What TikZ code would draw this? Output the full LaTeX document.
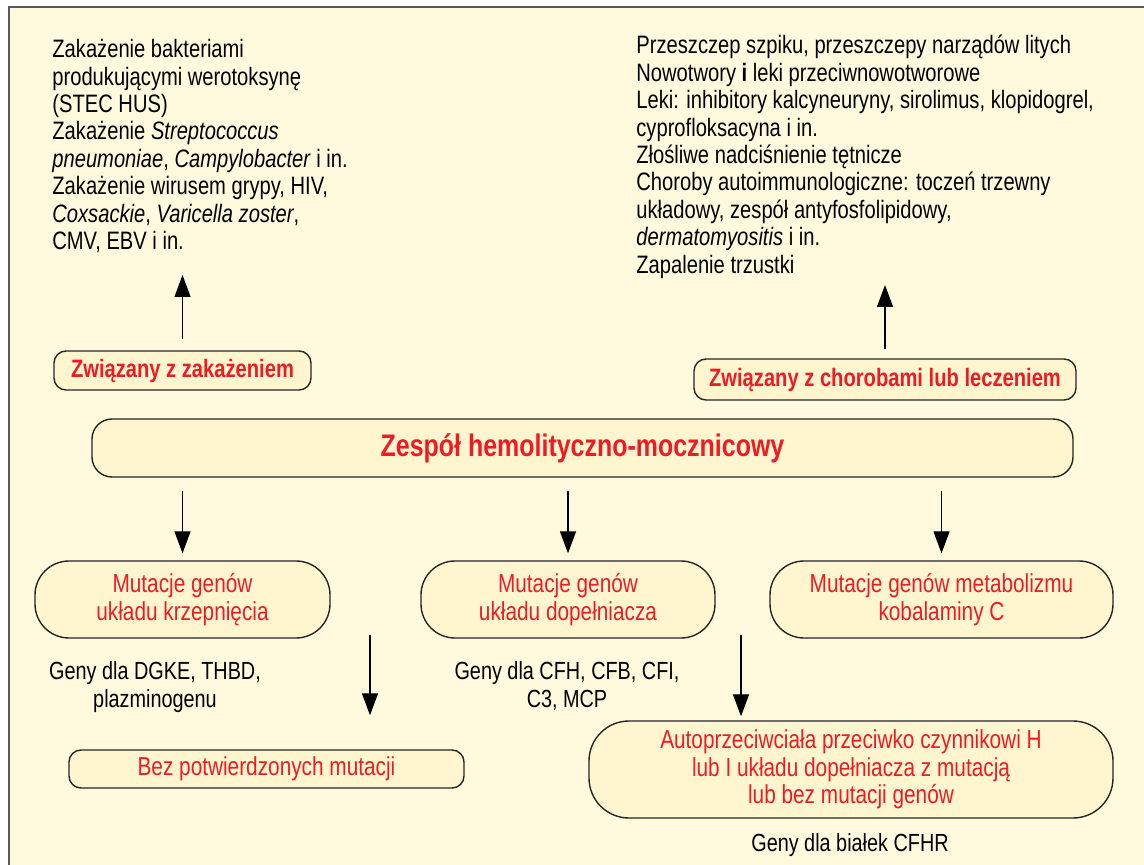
\documentclass[tikz,border=0pt]{standalone}
\usepackage{xcolor}
\usepackage{fontspec}
\setmainfont{Liberation Sans}[FakeStretch=0.80]
\usepackage{tikz}
\usetikzlibrary{arrows.meta}
\usetikzlibrary{positioning}
\definecolor{tlo}{RGB}{255,250,221}
\definecolor{wypelnienie}{RGB}{255,246,208}
\definecolor{czerwony}{RGB}{237,28,36}
\definecolor{obrys}{RGB}{90,90,90}
\tikzset{
    opis/.style = {inner sep=0pt, align=left, font=\fontsize{12.6}{13.7}\selectfont},
    geny/.style = {inner sep=0pt, align=center, font=\fontsize{12.4}{14}\selectfont},
    mybox/.style = {draw=black!85, fill=wypelnienie, line width=0.7pt, inner sep=0pt, text=czerwony, align=center, rounded corners=6pt},
    myboxb/.style = {mybox, font=\bfseries\fontsize{12.6}{14}\selectfont},
    myboxm/.style = {mybox, rounded corners=17pt, font=\fontsize{13}{14}\selectfont},
}

\begin{document}
\begin{tikzpicture}[
	x=0.5pt, y=-0.5pt,
	line cap=butt
]
\tikzset{
    strzal/.style = {-{Triangle[width=8pt,length=11pt]}, line width=0.65pt}
}
\useasboundingbox (0,0) rectangle (1144,865);
\fill[tlo] (9,7) rectangle (1144,865);
\draw[obrys, line width=1.3pt] (9,865) -- (9,7) -- (1144,7);
%
\node[opis, anchor=north west] at (52,39) (zakazenia) {Zakażenie bakteriami\\
produkującymi werotoksynę\\
(STEC HUS)\\
Zakażenie \textit{Streptococcus}\\
\textit{pneumoniae}, \textit{Campylobacter} i in.\\
Zakażenie wirusem grypy, HIV,\\
\textit{Coxsackie}, \textit{Varicella zoster},\\
CMV, EBV i in.};
\node[opis, anchor=north west] at (636,35) (choroby) {Przeszczep szpiku, przeszczepy narządów litych\\
Nowotwory \textbf{i} leki przeciwnowotworowe\\
Leki: inhibitory kalcyneuryny, sirolimus, klopidogrel,\\
cyprofloksacyna i in.\\
Złośliwe nadciśnienie tętnicze\\
Choroby autoimmunologiczne: toczeń trzewny\\
układowy, zespół antyfosfolipidowy,\\
\textit{dermatomyositis} i in.\\
Zapalenie trzustki};
%
\node[myboxb, minimum width=128.5pt, minimum height=19.5pt] at (182.5,370.5) (zak) {Związany z zakażeniem};
\node[myboxb, minimum width=191pt, minimum height=20.5pt] at (885,379.5) (lecz) {Związany z chorobami lub leczeniem};
\node[mybox, rounded corners=10pt, minimum width=490.5pt, minimum height=29pt, font=\bfseries\fontsize{15.6}{17}\selectfont] at (582.5,448) (hus) {Zespół hemolityczno-mocznicowy};
%
\node[myboxm, minimum width=147.5pt, minimum height=38.5pt] at (182.5,599.5) (mutk) {Mutacje genów\\układu krzepnięcia};
\node[myboxm, minimum width=147pt, minimum height=38.5pt] at (568,599.5) (mutd) {Mutacje genów\\układu dopełniacza};
\node[myboxm, minimum width=171.5pt, minimum height=38.5pt] at (941.5,599.5) (mutc) {Mutacje genów metabolizmu\\kobalaminy C};
%
\node[geny, anchor=north] at (155,661) (genyk) {Geny dla DGKE, THBD,\\plazminogenu};
\node[geny, anchor=north] at (567,661) (genyd) {Geny dla CFH, CFB, CFI,\\C3, MCP};
%
\node[mybox, minimum width=197.5pt, minimum height=19pt, font=\fontsize{13}{14}\selectfont] at (266.5,769) (bez) {Bez potwierdzonych mutacji};
\node[mybox, rounded corners=20pt, minimum width=262pt, minimum height=48.5pt, font=\fontsize{13}{13.7}\selectfont] at (851,769.5) (auto) {Autoprzeciwciała przeciwko czynnikowi H\\lub I układu dopełniacza z mutacją\\lub bez mutacji genów};
\node[geny, anchor=base] at (850,851) (genyh) {Geny dla białek CFHR};
%
\coordinate (zakgora) at (182.5,275);
\coordinate (leczgora) at (885,285);
\coordinate (bezstart) at (370,635);
\coordinate (autostart) at (741,635);
%
\draw[strzal, shorten <=5.5pt] (zak.north) -- (zakgora);
\draw[strzal, shorten <=4.5pt] (lecz.north) -- (leczgora);
%
\draw[strzal, shorten <=6.5pt, shorten >=3.5pt] (hus.south -| mutk.north) -- (mutk.north);
\draw[strzal, shorten <=6.5pt, shorten >=3.5pt] (hus.south -| mutd.north) -- (mutd.north);
\draw[strzal, shorten <=6.5pt, shorten >=3.5pt] (hus.south -| mutc.north) -- (mutc.north);
%
\draw[strzal, shorten >=17pt] (bezstart) -- (bezstart |- bez.north);
\draw[strzal, shorten >=2pt] (autostart) -- (autostart |- auto.north);
\end{tikzpicture}
\end{document}
